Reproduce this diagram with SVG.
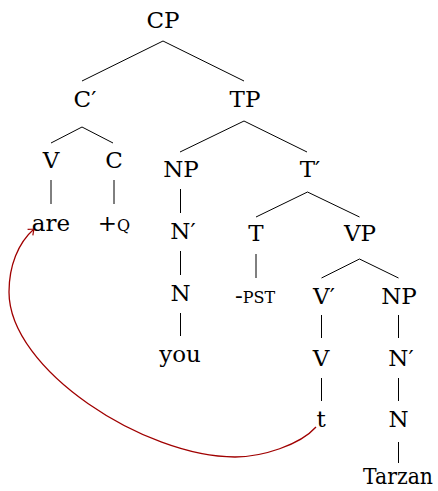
<svg xmlns="http://www.w3.org/2000/svg" width="438" height="491" viewBox="0 0 438 491">
<defs>
<style>
text{font-family:"DejaVu Serif",serif;font-size:23px;fill:#000;text-anchor:middle}
.sc{font-size:16px}
.edge line{stroke:#000;stroke-width:1}
.move{fill:none;stroke:#a00000;stroke-width:1.3}
</style>
<marker id="arr" markerUnits="userSpaceOnUse" markerWidth="12" markerHeight="12" viewBox="-8 -6 10 12" refX="0" refY="0" orient="auto">
<path d="M-5,-4 Q-1.5,-1 0,0 Q-1.5,1 -5,4" fill="none" stroke="#a00000" stroke-width="1.2"/>
</marker>
</defs>
<rect width="438" height="491" fill="#fff"/>
<g id="edges" class="edge">
<line x1="163" y1="41" x2="82" y2="81"/>
<line x1="163" y1="41" x2="244" y2="81"/>
<line x1="82" y1="127" x2="51" y2="143"/>
<line x1="82" y1="127" x2="113" y2="143"/>
<line x1="244" y1="121" x2="180" y2="152"/>
<line x1="244" y1="121" x2="307" y2="152"/>
<line x1="51" y1="180" x2="51" y2="204"/>
<line x1="114" y1="180" x2="114" y2="204"/>
<line x1="180.5" y1="189" x2="180.5" y2="213"/>
<line x1="180.5" y1="251" x2="180.5" y2="275"/>
<line x1="180.5" y1="313" x2="180.5" y2="336"/>
<line x1="307.5" y1="192" x2="256" y2="217"/>
<line x1="307.5" y1="192" x2="359.5" y2="217"/>
<line x1="256" y1="254" x2="256" y2="278"/>
<line x1="359.5" y1="259" x2="321.5" y2="278"/>
<line x1="359.5" y1="259" x2="398.5" y2="278"/>
<line x1="321.5" y1="315" x2="321.5" y2="338"/>
<line x1="398.5" y1="315" x2="398.5" y2="338"/>
<line x1="321.5" y1="378" x2="321.5" y2="401"/>
<line x1="398.5" y1="378" x2="398.5" y2="401"/>
<line x1="398.5" y1="442" x2="398.5" y2="463"/>
<path class="move" d="M316,427 C300,445 262,457 235,457 C145,457 9,370 9,292 C9,266 18,243 34,229" marker-end="url(#arr)"/>
</g>
<g id="CP"><text x="163" y="28">CP</text></g>
<g id="Cbar"><text x="85" y="107">C′</text></g>
<g id="TP"><text x="245" y="107">TP</text></g>
<g id="V1"><text x="51" y="168">V</text></g>
<g id="C"><text x="114" y="168">C</text></g>
<g id="NP1"><text x="181" y="177">NP</text></g>
<g id="Tbar"><text x="310" y="177">T′</text></g>
<g id="are"><text x="51" y="231">are</text></g>
<g id="Q"><text x="114" y="231">+<tspan class="sc">Q</tspan></text></g>
<g id="Nbar1"><text x="183" y="239">N′</text></g>
<g id="T"><text x="256" y="241">T</text></g>
<g id="VP"><text x="360" y="241">VP</text></g>
<g id="N1"><text x="180.5" y="301">N</text></g>
<g id="PST"><text x="255" y="303">-<tspan class="sc">PST</tspan></text></g>
<g id="Vbar"><text x="324" y="304">V′</text></g>
<g id="NP2"><text x="399" y="304">NP</text></g>
<g id="you"><text x="180" y="362">you</text></g>
<g id="V2"><text x="321" y="366">V</text></g>
<g id="Nbar2"><text x="401" y="366">N′</text></g>
<g id="t"><text x="321" y="427">t</text></g>
<g id="N2"><text x="398.5" y="427">N</text></g>
<g id="Tarzan"><text x="398" y="484" font-size="22" textLength="70" lengthAdjust="spacingAndGlyphs">Tarzan</text></g>
</svg>
